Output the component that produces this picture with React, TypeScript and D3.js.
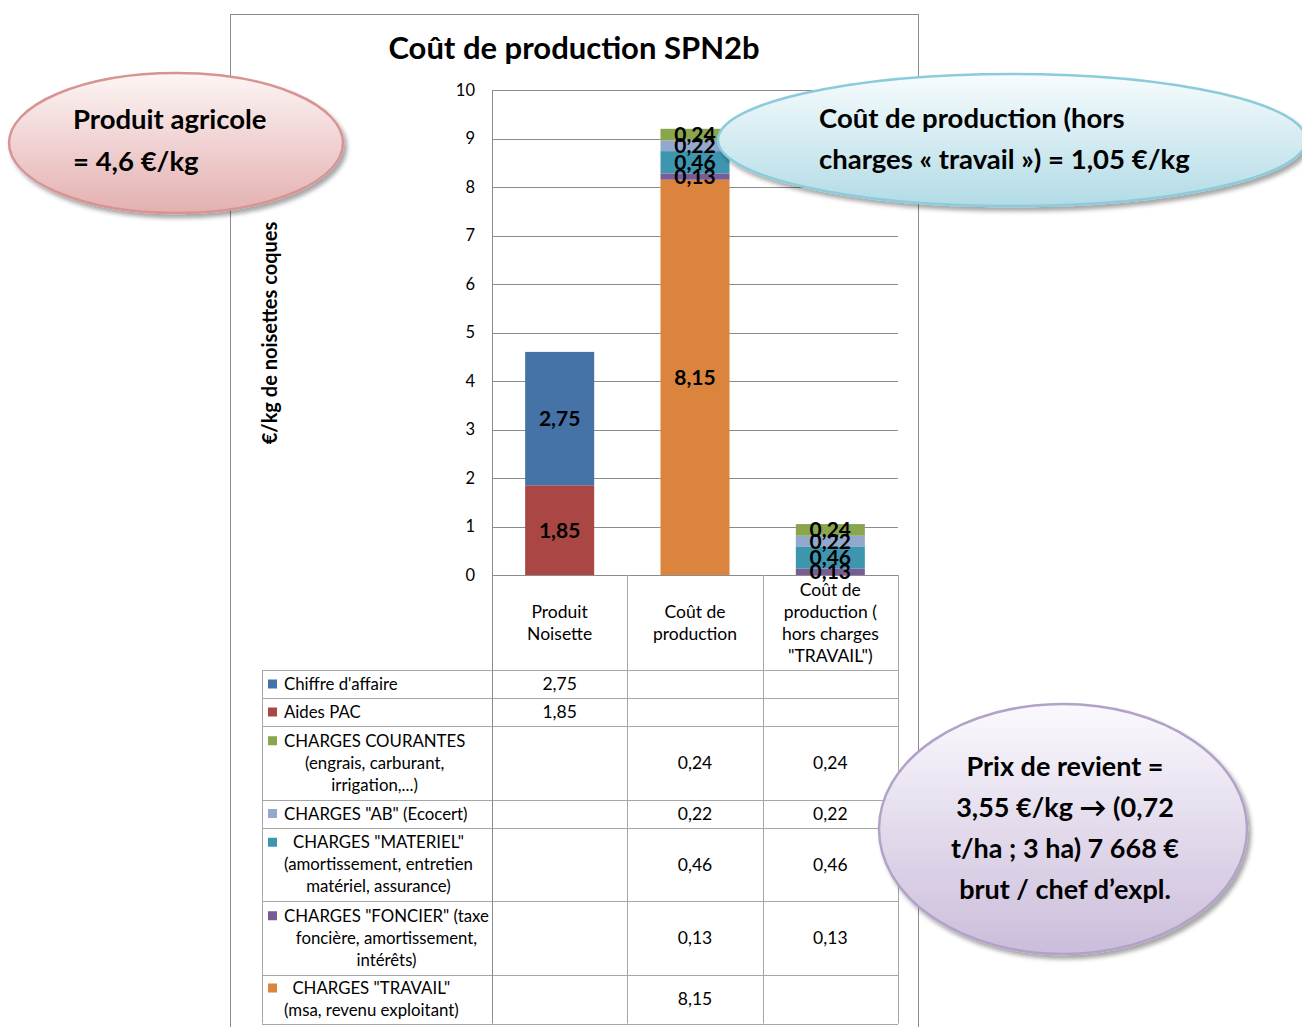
import React, { useEffect, useRef } from "react";
import * as d3 from "d3";

const title = "Coût de production SPN2b";
const yAxisLabel = "€/kg de noisettes coques";
const categoryLines = [
  ["Produit", "Noisette"],
  ["Coût de", "production"],
  ["Coût de", "production (", "hors charges", "\"TRAVAIL\")"],
];
const yTicks = [0, 1, 2, 3, 4, 5, 6, 7, 8, 9, 10];

const seriesKeys = ["chiffre", "aides", "courantes", "ab", "materiel", "foncier", "travail"];
const seriesLegendLines = [
  ["Chiffre d'affaire"],
  ["Aides PAC"],
  ["CHARGES COURANTES", "(engrais, carburant,", "irrigation,...)"],
  ["CHARGES \"AB\" (Ecocert)"],
  ["CHARGES \"MATERIEL\"", "(amortissement, entretien", "matériel, assurance)"],
  ["CHARGES \"FONCIER\" (taxe", "foncière, amortissement,", "intérêts)"],
  ["CHARGES \"TRAVAIL\"", "(msa, revenu exploitant)"],
];
const seriesColors = ["#4572A7", "#AA4643", "#89A54E", "#92A8CD", "#3D96AE", "#7A5C94", "#DB843D"];

const chiffre = [2.75, null, null];
const aides = [1.85, null, null];
const courantes = [null, 0.24, 0.24];
const ab = [null, 0.22, 0.22];
const materiel = [null, 0.46, 0.46];
const foncier = [null, 0.13, 0.13];
const travail = [null, 8.15, null];
const seriesValues = [chiffre, aides, courantes, ab, materiel, foncier, travail];

const calloutPink = ["Produit agricole", "= 4,6 €/kg"];
const calloutBlue = ["Coût de production (hors", "charges « travail ») = 1,05 €/kg"];
const calloutPurple = ["Prix de revient =", "3,55 €/kg → (0,72", "t/ha ; 3 ha) 7 668 €", "brut / chef d’expl."];

const FONT = "Lato, 'Open Sans', sans-serif";
const TFS = 17.5;
const LFS = 16.8;

export default function App() {
  const ref = useRef<SVGSVGElement | null>(null);

  useEffect(() => {
    document.body.style.margin = "0";
    const svg = d3.select(ref.current);
    svg.selectAll("*").remove();

    const defs = svg.append("defs");
    const mkGrad = (id: string, c1: string, c2: string) => {
      const g = defs.append("linearGradient").attr("id", id).attr("x1", 0).attr("y1", 0).attr("x2", 0).attr("y2", 1);
      g.append("stop").attr("offset", "0%").attr("stop-color", c1);
      g.append("stop").attr("offset", "100%").attr("stop-color", c2);
    };
    mkGrad("gPink", "#fdf5f5", "#e4b0b0");
    mkGrad("gBlue", "#f7fcfd", "#b2dbe6");
    mkGrad("gPurple", "#fbf9fd", "#cbbddb");
    const f = defs.append("filter").attr("id", "shadow").attr("x", "-10%").attr("y", "-10%").attr("width", "130%").attr("height", "140%");
    f.append("feDropShadow").attr("dx", 3).attr("dy", 4).attr("stdDeviation", 2).attr("flood-color", "#000").attr("flood-opacity", 0.35);

    // chart box
    svg.append("rect").attr("x", 230.5).attr("y", 14.5).attr("width", 688).attr("height", 1030)
      .attr("fill", "#fff").attr("stroke", "#8c8c8c").attr("stroke-width", 1);

    svg.append("text").attr("x", 574).attr("y", 59).attr("text-anchor", "middle")
      .attr("font-family", FONT).attr("font-weight", 700).attr("font-size", 31).attr("fill", "#000").text(title);

    const plotLeft = 492, plotRight = 898, plotTop = 90, plotBottom = 575;
    const y = d3.scaleLinear().domain([0, 10]).range([plotBottom, plotTop]);
    const x = d3.scaleBand<number>().domain(d3.range(categoryLines.length)).range([plotLeft, plotRight]).paddingInner(0).paddingOuter(0);
    const barW = x.bandwidth() * 0.51;

    // gridlines
    const g = svg.append("g");
    g.selectAll("line.grid").data(yTicks).join("line")
      .attr("x1", plotLeft).attr("x2", plotRight)
      .attr("y1", (d) => Math.round(y(d)) + 0.5).attr("y2", (d) => Math.round(y(d)) + 0.5)
      .attr("stroke", "#8c8c8c").attr("stroke-width", 1);
    g.selectAll("text.tick").data(yTicks).join("text")
      .attr("x", 475).attr("y", (d) => y(d)).attr("dy", "0.35em").attr("text-anchor", "end")
      .attr("font-family", FONT).attr("font-size", 16.5).attr("fill", "#000").text((d) => String(d));

    svg.append("text").attr("transform", `translate(277,${333}) rotate(-90)`).attr("text-anchor", "middle")
      .attr("font-family", FONT).attr("font-weight", 700).attr("font-size", 20).attr("fill", "#000").text(yAxisLabel);

    // stacked bars
    const rows = categoryLines.map((_, i) => {
      const o: any = { i };
      seriesKeys.forEach((k, s) => (o[k] = seriesValues[s][i] ?? 0));
      return o;
    });
    const stackKeys = [...seriesKeys].reverse();
    const stacked = d3.stack<any>().keys(stackKeys)(rows);
    const fmt = (v: number) => d3.format(".2f")(v).replace(".", ",");

    stacked.forEach((layer) => {
      const si = seriesKeys.indexOf(layer.key);
      layer.forEach((seg, ci) => {
        const v = seriesValues[si][ci];
        if (v == null) return;
        const cx = (x(ci) as number) + x.bandwidth() / 2;
        svg.append("rect").attr("x", cx - barW / 2).attr("width", barW)
          .attr("y", y(seg[1])).attr("height", y(seg[0]) - y(seg[1])).attr("fill", seriesColors[si]);
      });
    });
    stacked.forEach((layer) => {
      const si = seriesKeys.indexOf(layer.key);
      layer.forEach((seg, ci) => {
        const v = seriesValues[si][ci];
        if (v == null) return;
        const cx = (x(ci) as number) + x.bandwidth() / 2;
        svg.append("text").attr("x", cx).attr("y", y((seg[0] + seg[1]) / 2)).attr("dy", "0.36em")
          .attr("text-anchor", "middle").attr("font-family", FONT).attr("font-weight", 700)
          .attr("font-size", 21).attr("fill", "#000").text(fmt(v));
      });
    });

    // data table
    const tableLeft = 262;
    const headerTop = plotBottom, headerBottom = 670;
    const lineH = 22;
    const rowHeights = seriesLegendLines.map((ls) => (ls.length === 1 ? 28 : ls.length === 2 ? 49 : 73.5));
    const rowTops: number[] = [];
    let acc = headerBottom;
    rowHeights.forEach((h) => { rowTops.push(acc); acc += h; });
    const tableBottom = acc;
    const gridColor = "#a6a6a6";

    // header labels
    categoryLines.forEach((lines, ci) => {
      const cx = (x(ci) as number) + x.bandwidth() / 2;
      const total = lines.length * lineH;
      const top = (headerTop + headerBottom) / 2 - total / 2;
      lines.forEach((l, li) => {
        svg.append("text").attr("x", cx).attr("y", top + li * lineH + lineH / 2).attr("dy", "0.36em")
          .attr("text-anchor", "middle").attr("font-family", FONT).attr("font-size", TFS).attr("fill", "#000").text(l);
      });
    });

    // horizontal lines
    const hLines = [headerBottom, ...rowTops.slice(1), tableBottom];
    hLines.forEach((yy) => {
      svg.append("line").attr("x1", tableLeft).attr("x2", plotRight).attr("y1", Math.round(yy) + 0.5).attr("y2", Math.round(yy) + 0.5)
        .attr("stroke", gridColor);
    });
    // vertical lines
    svg.append("line").attr("x1", tableLeft + 0.5).attr("x2", tableLeft + 0.5).attr("y1", headerBottom).attr("y2", tableBottom).attr("stroke", gridColor);
    [0, 1, 2, 3].forEach((k) => {
      const xx = k < 3 ? (x(k) as number) : plotRight;
      svg.append("line").attr("x1", Math.round(xx) + 0.5).attr("x2", Math.round(xx) + 0.5)
        .attr("y1", k === 0 ? plotTop : headerTop).attr("y2", tableBottom).attr("stroke", k === 0 ? "#8c8c8c" : gridColor);
    });

    // rows
    seriesLegendLines.forEach((lines, si) => {
      const top = rowTops[si], h = rowHeights[si];
      const total = lines.length * lineH;
      const t0 = top + h / 2 - total / 2;
      const texts = lines.map((l, li) =>
        svg.append("text").attr("y", t0 + li * lineH + lineH / 2).attr("dy", "0.36em")
          .attr("text-anchor", "middle").attr("font-family", FONT).attr("font-size", LFS).attr("fill", "#000").text(l)
      );
      const widths = texts.map((t) => (t.node() as SVGTextElement).getComputedTextLength());
      const maxW = d3.max(widths) as number;
      const cx = 284 + maxW / 2;
      texts.forEach((t) => t.attr("x", cx));
      svg.append("rect").attr("x", 268).attr("y", t0 + lineH / 2 - 4.5).attr("width", 9).attr("height", 9)
        .attr("fill", seriesColors[si]);
      categoryLines.forEach((_, ci) => {
        const v = seriesValues[si][ci];
        if (v == null) return;
        const cxx = (x(ci) as number) + x.bandwidth() / 2;
        svg.append("text").attr("x", cxx).attr("y", top + h / 2).attr("dy", "0.36em").attr("text-anchor", "middle")
          .attr("font-family", FONT).attr("font-size", TFS).attr("fill", "#000").text(fmt(v));
      });
    });

    // callouts
    const callout = (cx: number, cy: number, rx: number, ry: number, grad: string, stroke: string,
      lines: string[], tx: number, anchor: string, firstY: number, gap: number, fs: number) => {
      svg.append("ellipse").attr("cx", cx).attr("cy", cy).attr("rx", rx).attr("ry", ry)
        .attr("fill", `url(#${grad})`).attr("stroke", stroke).attr("stroke-width", 2.5).attr("filter", "url(#shadow)");
      lines.forEach((l, i) => {
        svg.append("text").attr("x", tx).attr("y", firstY + i * gap).attr("dy", "0.35em").attr("text-anchor", anchor)
          .attr("font-family", FONT).attr("font-weight", 700).attr("font-size", fs).attr("fill", "#000").text(l);
      });
    };
    callout(176, 143, 167, 70, "gPink", "#d79492", calloutPink, 73, "start", 119, 42, 27.5);
    callout(1012, 140, 294, 66, "gBlue", "#8ccbdb", calloutBlue, 819, "start", 118, 41, 27.5);
    callout(1063, 829, 184, 125, "gPurple", "#b3a2c7", calloutPurple, 1065, "middle", 767, 41, 27);
  }, []);

  return <svg ref={ref} width={1302} height={1027} style={{ display: "block", background: "#fff" }} />;
}
